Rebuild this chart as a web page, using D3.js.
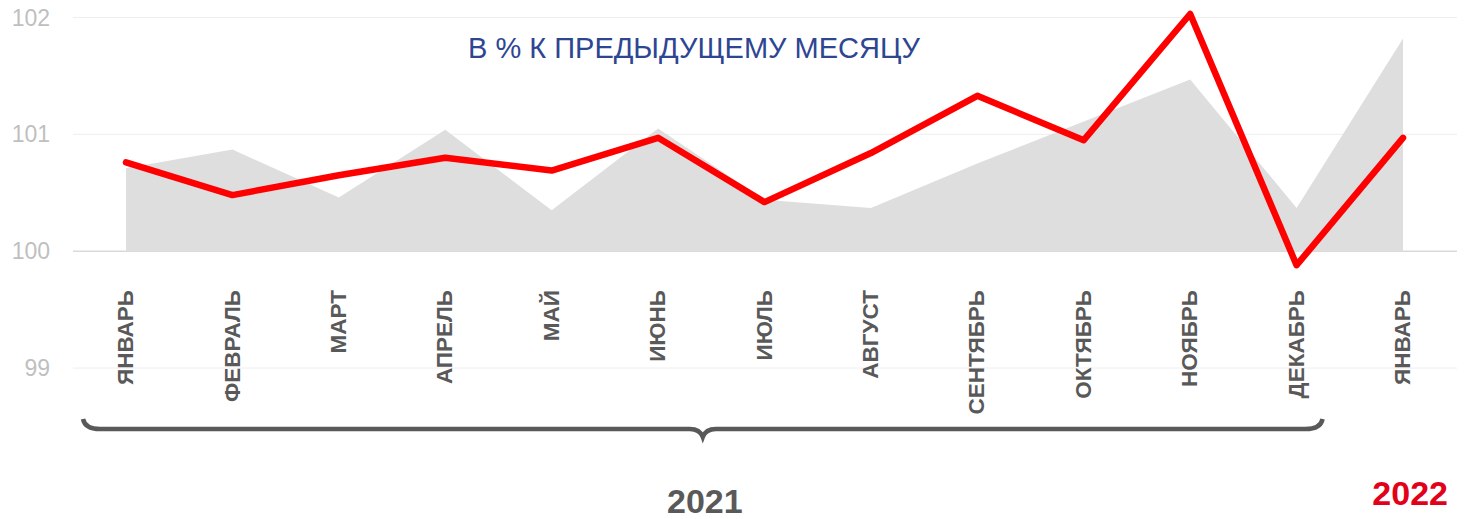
<!DOCTYPE html>
<html>
<head>
<meta charset="utf-8">
<script src="https://cdn.jsdelivr.net/npm/d3@7"></script>
<style>
  html, body { margin: 0; padding: 0; background: #ffffff; }
  svg { display: block; }
</style>
</head>
<body>
<svg id="chart" width="1473" height="519"></svg>
<script>
const months = ["ЯНВАРЬ","ФЕВРАЛЬ","МАРТ","АПРЕЛЬ","МАЙ","ИЮНЬ","ИЮЛЬ","АВГУСТ","СЕНТЯБРЬ","ОКТЯБРЬ","НОЯБРЬ","ДЕКАБРЬ","ЯНВАРЬ"];
const prevMonth = [100.76,100.48,100.65,100.80,100.69,100.97,100.42,100.84,101.33,100.95,102.03,99.88,100.97];
const backgroundArea = [100.71,100.87,100.46,101.04,100.35,101.05,100.44,100.37,100.75,101.11,101.47,100.37,101.82];
const yTicks = [99,100,101,102];
const title = "В % К ПРЕДЫДУЩЕМУ МЕСЯЦУ";
const yearLabels = ["2021","2022"];

const svg = d3.select("#chart");
const font = "'Liberation Sans', Arial, sans-serif";

const x = d3.scalePoint().domain(d3.range(months.length)).range([126, 1403]);
const y = d3.scaleLinear().domain([99, 102]).range([368, 17.5]);

// gridlines
svg.append("g").selectAll("line").data(yTicks).join("line")
  .attr("x1", 73).attr("x2", 1457)
  .attr("y1", d => y(d)).attr("y2", d => y(d))
  .attr("stroke", d => d === 100 ? "#d9d9d9" : "#eeeeee")
  .attr("stroke-width", d => d === 100 ? 1.5 : 1);

// y tick labels
svg.append("g").selectAll("text").data(yTicks).join("text")
  .attr("x", 50).attr("y", d => y(d))
  .attr("dy", "0.35em")
  .attr("text-anchor", "end")
  .attr("font-family", font).attr("font-size", 23)
  .attr("fill", "#bfbfbf")
  .text(d => d);

// gray area
const area = d3.area()
  .x((d, i) => x(i))
  .y0(y(100))
  .y1(d => y(d));
svg.append("path").datum(backgroundArea)
  .attr("d", area)
  .attr("fill", "#dedede");

// red line
const line = d3.line().x((d, i) => x(i)).y(d => y(d));
svg.append("path").datum(prevMonth)
  .attr("d", line)
  .attr("fill", "none")
  .attr("stroke", "#ff0000")
  .attr("stroke-width", 6.5)
  .attr("stroke-linejoin", "round")
  .attr("stroke-linecap", "round");

// title
svg.append("text")
  .attr("x", 468).attr("y", 58)
  .attr("font-family", font).attr("font-size", 29)
  .attr("fill", "#2e4592")
  .text(title);

// month labels
svg.append("g").selectAll("text").data(months).join("text")
  .attr("transform", (d, i) => `translate(${x(i) - 1},290) rotate(-90)`)
  .attr("text-anchor", "end")
  .attr("dy", "0.36em")
  .attr("font-family", font).attr("font-size", 22.5).attr("font-weight", "bold")
  .attr("fill", "#595959")
  .text(d => d);

// curly brace under 2021
const bl = x(0) - 43, br = x(11) + 26, bm = (bl + br) / 2;
const by = 429;
svg.append("path")
  .attr("d", `M${bl},${by - 10} Q${bl + 2},${by} ${bl + 17},${by} L${bm - 13},${by} Q${bm - 3},${by} ${bm},${by + 8} Q${bm + 3},${by} ${bm + 13},${by} L${br - 17},${by} Q${br - 2},${by} ${br},${by - 10}`)
  .attr("fill", "none")
  .attr("stroke", "#595959")
  .attr("stroke-width", 4.5);

// year labels
svg.append("text")
  .attr("x", bm + 2).attr("y", 513)
  .attr("text-anchor", "middle")
  .attr("font-family", font).attr("font-size", 34).attr("font-weight", "bold")
  .attr("fill", "#595959")
  .text(yearLabels[0]);
svg.append("text")
  .attr("x", 1448).attr("y", 505)
  .attr("text-anchor", "end")
  .attr("font-family", font).attr("font-size", 34).attr("font-weight", "bold")
  .attr("fill", "#e2001a")
  .text(yearLabels[1]);
</script>
</body>
</html>
